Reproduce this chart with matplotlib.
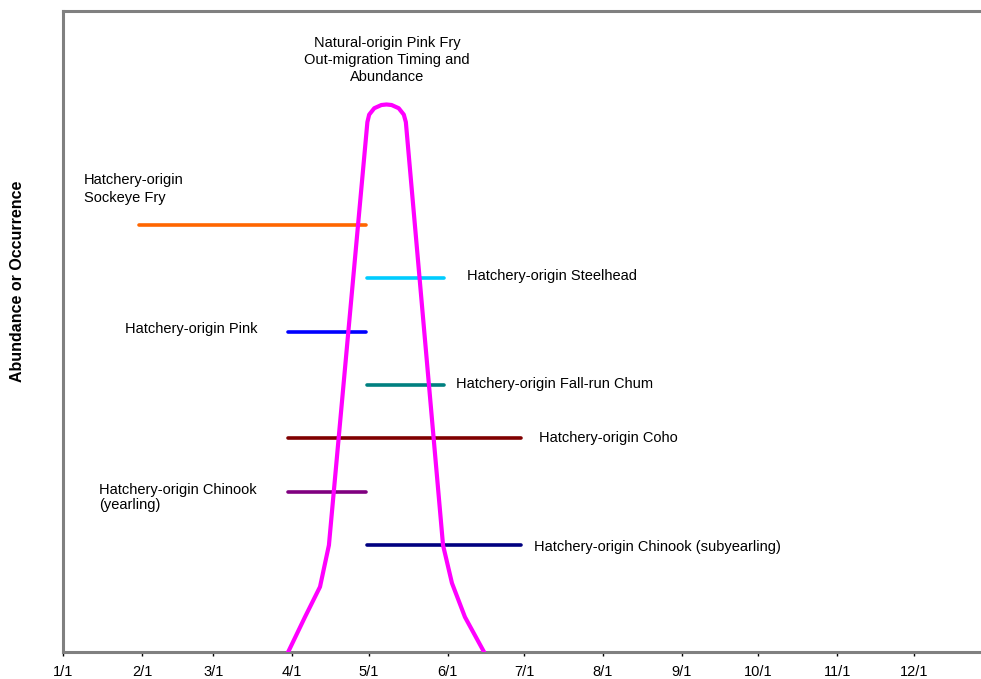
import matplotlib.pyplot as plt

plt.rcParams['font.family'] = ['Liberation Sans', 'DejaVu Sans']

# month starts (day of year) used as tick positions
tick_days = [0, 31, 59, 90, 120, 151, 181, 212, 243, 273, 304, 334]
tick_labels = ['1/1', '2/1', '3/1', '4/1', '5/1', '6/1', '7/1', '8/1', '9/1', '10/1', '11/1', '12/1']

# natural-origin pink fry out-migration curve (day of year, relative abundance)
pink_days = [88.4, 95.0, 100.9, 104.4, 119.5, 120.2, 122.2, 125.0, 127.0,
             129.0, 131.8, 133.8, 134.6, 149.2, 152.7, 157.8, 165.3]
pink_abund = [0, 0.655, 1.22, 2.0, 9.92, 10.06, 10.18, 10.24, 10.25,
              10.24, 10.18, 10.06, 9.92, 2.0, 1.29, 0.655, 0]

# hatchery release windows
hatch_names = ['Sockeye Fry', 'Steelhead', 'Pink', 'Fall-run Chum', 'Coho',
               'Chinook (yearling)', 'Chinook (subyearling)']
hatch_start = [30, 119.5, 88.5, 119.5, 88.5, 88.5, 119.5]
hatch_end = [119, 149.5, 119, 149.5, 180, 119, 180]
hatch_level = [8, 7, 6, 5, 4, 3, 2]
hatch_colors = ['#FF6600', '#00CCFF', '#0000FF', '#008080', '#800000', '#800080', '#000080']

fig = plt.figure(figsize=(9.81, 6.79), dpi=100)
ax = fig.add_axes([63 / 981, 27 / 679, 918 / 981, 641 / 679])

for s, e, lvl, c in zip(hatch_start, hatch_end, hatch_level, hatch_colors):
    ax.plot([s, e], [lvl, lvl], color=c, lw=2.6, solid_capstyle='round', zorder=2)

ax.plot(pink_days, pink_abund, color='#FF00FF', lw=3, solid_joinstyle='round', zorder=3)

# labels
fs = 10.5
ax.text(127.2, 11.08, 'Natural-origin Pink Fry\nOut-migration Timing and\nAbundance',
        ha='center', va='center', fontsize=fs, linespacing=1.25)
ax.text(8.2, 8.67, 'Hatchery-origin\nSockeye Fry', ha='left', va='center', fontsize=fs, linespacing=1.3)
ax.text(158.6, 7.04, 'Hatchery-origin Steelhead', ha='left', va='center', fontsize=fs)
ax.text(24.3, 6.05, 'Hatchery-origin Pink', ha='left', va='center', fontsize=fs)
ax.text(154.3, 5.02, 'Hatchery-origin Fall-run Chum', ha='left', va='center', fontsize=fs)
ax.text(186.9, 4.01, 'Hatchery-origin Coho', ha='left', va='center', fontsize=fs)
ax.text(14.3, 2.89, 'Hatchery-origin Chinook\n(yearling)', ha='left', va='center', fontsize=fs, linespacing=1.15)
ax.text(184.8, 1.97, 'Hatchery-origin Chinook (subyearling)', ha='left', va='center', fontsize=fs)

ax.set_xlim(0, 360.4)
ax.set_ylim(0, 12)
ax.set_xticks(tick_days)
ax.set_xticklabels(tick_labels, fontsize=10.5)
ax.set_yticks([])
ax.tick_params(axis='x', direction='out', length=3, width=1, color='black', pad=6)

for side in ['left', 'bottom', 'top']:
    ax.spines[side].set_color('#808080')
    ax.spines[side].set_linewidth(2.2)
ax.spines['right'].set_visible(False)

fig.text(18 / 981, 1 - 281 / 679, 'Abundance or Occurrence', rotation=90,
         ha='center', va='center', fontsize=11.5, fontweight='bold')

fig.savefig('out.png', dpi=100)
